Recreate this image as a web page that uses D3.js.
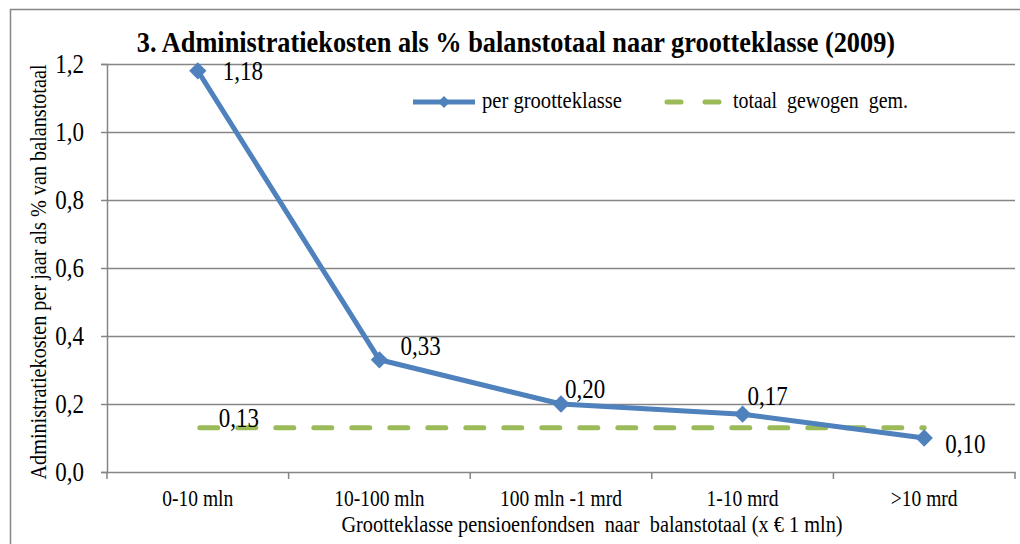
<!DOCTYPE html>
<html><head><meta charset="utf-8">
<script src="https://cdn.jsdelivr.net/npm/d3@7"></script>
<style>body{margin:0;background:#fff}svg{display:block}text{white-space:pre}</style>
</head><body>
<svg id="c" width="1020" height="544"></svg>
<script>
const categories = ["0-10 mln","10-100 mln","100 mln -1 mrd","1-10 mrd",">10 mrd"];
const perKlasse = [1.18,0.33,0.20,0.17,0.10];
const gewogenGem = [0.13,0.13,0.13,0.13,0.13];
const yTicks = [0,0.2,0.4,0.6,0.8,1.0,1.2];
const labels = ["1,18","0,33","0,20","0,17","0,10"];
const avgLabel = "0,13";

const svg = d3.select("#c");
const FONT = "'Liberation Serif', 'Times New Roman', serif";
const SY = 1.15; // vertical stretch of the original rendering
const L=107,R=1015,T=64,B=472;
const x = d3.scaleBand().domain(categories).range([L,R]);
const y = d3.scaleLinear().domain([0,1.2]).range([B,T]);
const fmt = d=>d3.format(".1f")(d).replace(".",",");
const grey="#868686";

function txt(g, px, py, s, size, o={}){
  const t = g.append("text")
    .attr("transform", `translate(${px},${py})${o.rot?` rotate(${o.rot})`:""} scale(1,${SY})`)
    .attr("text-anchor", o.anchor||"start")
    .style("font-family", FONT).style("font-size", size+"px").style("white-space","pre")
    .style("font-weight", o.bold?"bold":"normal").attr("fill","#000").text(s);
  if (o.fit){ const len = t.node().getComputedTextLength(); t.style("font-size", (size*o.fit/len)+"px"); }
  return t;
}

// outer border
svg.append("path").attr("d","M10.5,544 V9.5 H1020").attr("fill","none").attr("stroke",grey).attr("stroke-width",1.5);

// gridlines
svg.append("g").selectAll("line").data(yTicks.slice(1)).join("line")
 .attr("x1",L).attr("x2",R).attr("y1",d=>Math.round(y(d))+0.5).attr("y2",d=>Math.round(y(d))+0.5)
 .attr("stroke",grey).attr("stroke-width",1.5);

// y axis
const ya = svg.append("g").attr("transform",`translate(${L},0)`)
 .call(d3.axisLeft(y).tickValues(yTicks).tickFormat("").tickSize(6));
ya.select(".domain").attr("stroke",grey).attr("stroke-width",1.5);
ya.selectAll(".tick line").attr("stroke",grey).attr("stroke-width",1.5);
const yl = svg.append("g");
yTicks.forEach(v=>txt(yl, 84, y(v)+9, fmt(v), 23, {anchor:"end"}));

// x axis
const xa = svg.append("g").attr("transform",`translate(0,${B})`)
 .call(d3.axisBottom(x).tickSize(0).tickFormat(""));
xa.select(".domain").attr("stroke",grey).attr("stroke-width",1.5);
const edges = categories.map(c=>x(c)).concat([R]);
svg.append("g").selectAll("line").data(edges).join("line")
 .attr("x1",d=>d).attr("x2",d=>d).attr("y1",B).attr("y2",B+7).attr("stroke",grey).attr("stroke-width",1.5);
const cx = c=>x(c)+x.bandwidth()/2;
const xl = svg.append("g");
categories.forEach(c=>txt(xl, cx(c), 506, c, 19.5, {anchor:"middle"}));

// average dashed line
svg.append("path").datum(gewogenGem)
 .attr("d",d3.line().x((d,i)=>cx(categories[i])).y(d=>y(d)))
 .attr("fill","none").attr("stroke","#9BBB59").attr("stroke-width",5)
 .attr("stroke-dasharray","18 20").attr("stroke-linecap","round").attr("stroke-dashoffset",-2);

// main line
svg.append("path").datum(perKlasse)
 .attr("d",d3.line().x((d,i)=>cx(categories[i])).y(d=>y(d)))
 .attr("fill","none").attr("stroke","#4F81BD").attr("stroke-width",5).attr("stroke-linejoin","round");
svg.append("g").selectAll("path").data(perKlasse).join("path")
 .attr("transform",(d,i)=>`translate(${cx(categories[i])},${y(d)}) rotate(45)`)
 .attr("d",d3.symbol().type(d3.symbolSquare).size(150)).attr("fill","#4F81BD");

// data labels
const lblOff = [[25,9],[21,-5],[4,-6],[5,-9],[21,15]];
const dl = svg.append("g");
perKlasse.forEach((d,i)=>txt(dl, cx(categories[i])+lblOff[i][0], y(d)+lblOff[i][1], labels[i], 23));
txt(dl, cx(categories[0])+21, y(gewogenGem[0])-1, avgLabel, 23);

// title
txt(svg, 516, 52, "3. Administratiekosten als % balanstotaal naar grootteklasse (2009)", 22, {anchor:"middle", bold:true, fit:758});

// axis titles
txt(svg, 46, 272, "Administratiekosten per jaar als % van balanstotaal", 18, {anchor:"middle", rot:-90, fit:415});
txt(svg, 592, 532, "Grootteklasse pensioenfondsen  naar  balanstotaal (x € 1 mln)", 18, {anchor:"middle", fit:501});

// legend
const lg = svg.append("g");
lg.append("line").attr("x1",413).attr("x2",475).attr("y1",102).attr("y2",102).attr("stroke","#4F81BD").attr("stroke-width",5);
lg.append("path").attr("transform","translate(444,102) rotate(45)").attr("d",d3.symbol().type(d3.symbolSquare).size(70)).attr("fill","#4F81BD");
txt(lg, 482, 108, "per grootteklasse", 19, {fit:140});
lg.append("line").attr("x1",667).attr("x2",721).attr("y1",102).attr("y2",102).attr("stroke","#9BBB59").attr("stroke-width",5)
 .attr("stroke-dasharray","14 24").attr("stroke-linecap","round");
txt(lg, 733, 108, "totaal  gewogen  gem.", 19, {fit:175});
</script>
</body></html>
